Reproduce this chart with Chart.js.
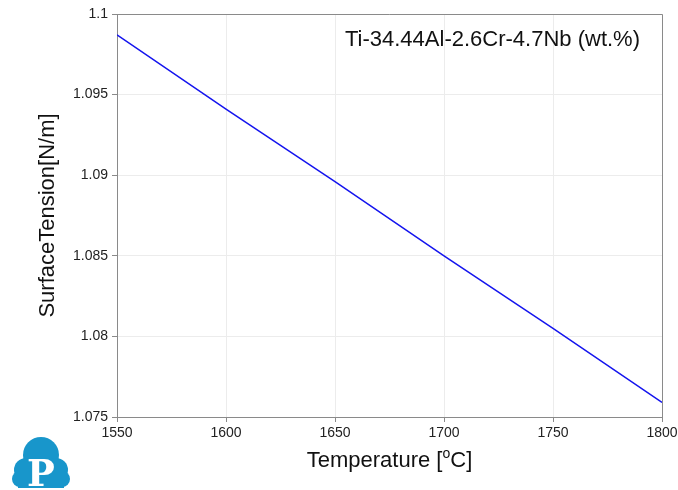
<!DOCTYPE html>
<html>
<head>
<meta charset="utf-8">
<script src="https://cdn.jsdelivr.net/npm/chart.js@4"></script>
<style>
    html, body { margin: 0; padding: 0; background: #fff; }
    #wrap { position: relative; width: 678px; height: 490px; }
    #logo { position: absolute; left: 0; top: 425px; }
</style>
</head>
<body>
<div id="wrap">
    <canvas id="myChart" width="678" height="490"></canvas>
    <svg id="logo" width="90" height="65" viewBox="0 0 90 65">
        <g fill="#1896cb">
            <circle cx="41" cy="30" r="18"/>
            <circle cx="26" cy="45" r="12"/>
            <circle cx="56" cy="45" r="12"/>
            <circle cx="20" cy="54" r="8"/>
            <circle cx="62" cy="54" r="8"/>
            <rect x="18" y="40" width="46" height="23"/>
        </g>
        <text x="41" y="61" text-anchor="middle" fill="#fff"
              font-family="DejaVu Serif, Liberation Serif, serif" font-weight="bold" font-size="37">P</text>
    </svg>
</div>
<script>
const temperature = [1550, 1600, 1650, 1700, 1750, 1800];
const surfaceTension = [1.0987, 1.0941, 1.0896, 1.0850, 1.0805, 1.0759];

const xTicks = [1550, 1600, 1650, 1700, 1750, 1800];
const yTicks = [1.075, 1.08, 1.085, 1.09, 1.095, 1.1];

const ctx = document.getElementById("myChart");

const font = "Liberation Sans, Arial, sans-serif";

// frame, alloy label and axis titles
const decorations = {
    id: "decorations",
    afterDraw(chart) {
        const { ctx, chartArea: a } = chart;
        ctx.save();
        ctx.strokeStyle = "#8a8a8a";
        ctx.lineWidth = 1;
        ctx.beginPath();
        ctx.moveTo(a.left, a.top + 0.5);
        ctx.lineTo(a.right + 0.5, a.top + 0.5);
        ctx.lineTo(a.right + 0.5, a.bottom);
        ctx.stroke();

        ctx.fillStyle = "#111";
        ctx.font = "22px " + font;
        ctx.textAlign = "right";
        ctx.textBaseline = "middle";
        ctx.fillText("Ti-34.44Al-2.6Cr-4.7Nb (wt.%)", 640, 40);

        // x title with superscript degree "o"
        const cx = (a.left + a.right) / 2;
        const y = 461;
        const p1 = "Temperature [";
        const p2 = "o";
        const p3 = "C]";
        ctx.font = "22px " + font;
        const w1 = ctx.measureText(p1).width;
        const w3 = ctx.measureText(p3).width;
        ctx.font = "14px " + font;
        const w2 = ctx.measureText(p2).width;
        let x = cx - (w1 + w2 + w3) / 2;
        ctx.textAlign = "left";
        ctx.font = "22px " + font;
        ctx.fillText(p1, x, y);
        x += w1;
        ctx.font = "14px " + font;
        ctx.fillText(p2, x, y - 7);
        x += w2;
        ctx.font = "22px " + font;
        ctx.fillText(p3, x, y);

        ctx.translate(48, (a.top + a.bottom) / 2);
        ctx.rotate(-Math.PI / 2);
        ctx.textAlign = "center";
        ctx.fillText("SurfaceTension[N/m]", 0, 0);
        ctx.restore();
    },
};

new Chart(ctx, {
    type: "line",
    data: {
        datasets: [
            {
                data: temperature.map((t, i) => ({ x: t, y: surfaceTension[i] })),
                borderColor: "#1414ee",
                borderWidth: 1.5,
                pointRadius: 0,
                tension: 0,
            },
        ],
    },
    options: {
        responsive: false,
        animation: false,
        layout: {
            padding: { left: 0, right: 16, top: 14, bottom: 0 },
        },
        plugins: {
            legend: { display: false },
            tooltip: { enabled: false },
        },
        scales: {
            x: {
                type: "linear",
                min: 1550,
                max: 1800,
                afterBuildTicks: (s) => {
                    s.ticks = xTicks.map((v) => ({ value: v }));
                },
                afterFit: (s) => {
                    s.height = 73;
                    s.paddingLeft = 0;
                    s.paddingRight = 0;
                },
                ticks: {
                    color: "#222",
                    font: { family: font, size: 14 },
                    padding: 3,
                    maxRotation: 0,
                    callback: (v) => String(v),
                },
                grid: {
                    color: "#ececec",
                    tickColor: "#8a8a8a",
                    tickLength: 5,
                },
                border: { color: "#8a8a8a" },
            },
            y: {
                min: 1.075,
                max: 1.1,
                afterBuildTicks: (s) => {
                    s.ticks = yTicks.map((v) => ({ value: v }));
                },
                afterFit: (s) => {
                    s.width = 117;
                    s.paddingTop = 0;
                    s.paddingBottom = 0;
                },
                ticks: {
                    color: "#222",
                    font: { family: font, size: 14 },
                    padding: 4,
                    callback: (v) => String(+v.toFixed(3)),
                },
                grid: {
                    color: "#ececec",
                    tickColor: "#8a8a8a",
                    tickLength: 5,
                },
                border: { color: "#8a8a8a" },
            },
        },
    },
    plugins: [decorations],
});
</script>
</body>
</html>
